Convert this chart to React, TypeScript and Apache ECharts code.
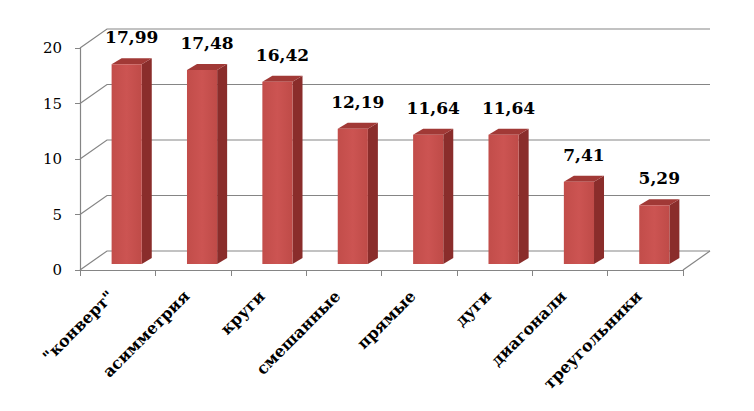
import React, { useEffect, useRef } from "react";
import * as echarts from "echarts";

const categories = ['"конверт"', "асимметрия", "круги", "смешанные", "прямые", "дуги", "диагонали", "треугольники"];
const values = [17.99, 17.48, 16.42, 12.19, 11.64, 11.64, 7.41, 5.29];
const yTicks = [0, 5, 10, 15, 20];

const SERIF = '"DejaVu Serif", "Liberation Serif", serif';
const DEPTH_X = 27;
const DEPTH_Y = -19;
const GRID_COLOR = "#858585";

export default function App() {
  const ref = useRef<HTMLDivElement>(null);
  useEffect(() => {
    if (!ref.current) return;
    const chart = echarts.init(ref.current, null, { renderer: "svg" });
    chart.setOption({
      animation: false,
      backgroundColor: "#ffffff",
      grid: { left: 80, right: 71, top: 48, bottom: 141 },
      xAxis: {
        type: "category",
        data: categories,
        boundaryGap: true,
        axisLine: { show: true, lineStyle: { color: GRID_COLOR, width: 1.2 } },
        axisTick: { show: true, length: 6, alignWithLabel: false, lineStyle: { color: GRID_COLOR } },
        axisLabel: {
          rotate: 45,
          margin: 17,
          padding: [0, 9, 0, 0],
          color: "#000",
          fontFamily: SERIF,
          fontWeight: "bold",
          fontSize: 16,
          interval: 0,
        },
        splitLine: { show: false },
      },
      yAxis: {
        type: "value",
        min: 0,
        max: 20,
        interval: 5,
        axisLine: { show: true, lineStyle: { color: GRID_COLOR, width: 1.2 } },
        axisTick: { show: true, length: 5, inside: false, lineStyle: { color: GRID_COLOR } },
        axisLabel: { margin: 18, color: "#000", fontFamily: SERIF, fontSize: 15 },
        splitLine: { show: false },
      },
      series: [
        {
          type: "custom",
          z: 1,
          silent: true,
          clip: false,
          data: yTicks.map((v) => [0, v]),
          encode: { x: 0, y: 1 },
          renderItem: (params: any, api: any) => {
            const cs = params.coordSys;
            const v = api.value(1);
            const y = api.coord([0, v])[1];
            const left = cs.x;
            const right = cs.x + cs.width;
            const children: any[] = [
              {
                type: "polyline",
                shape: {
                  points: [
                    [left, y],
                    [left + DEPTH_X, y + DEPTH_Y],
                    [right + DEPTH_X, y + DEPTH_Y],
                  ],
                },
                style: { stroke: GRID_COLOR, lineWidth: 1.2, fill: null },
              },
            ];
            if (v === 0) {
              children.push({
                type: "line",
                shape: { x1: right, y1: y, x2: right + DEPTH_X, y2: y + DEPTH_Y },
                style: { stroke: GRID_COLOR, lineWidth: 1.2 },
              });
            }
            return { type: "group", children };
          },
        },
        {
          type: "custom",
          z: 2,
          clip: false,
          data: values.map((v, i) => [i, v]),
          encode: { x: 0, y: 1 },
          renderItem: (params: any, api: any) => {
            const idx = api.value(0);
            const v = api.value(1);
            const base = api.coord([idx, 0]);
            const top = api.coord([idx, v]);
            const bw = api.size([1, 0])[0] * 0.4;
            const ox = 9, oy = -6, sx = 10, sy = -6;
            const fl = base[0] + ox - bw / 2;
            const fr = fl + bw;
            const fb = base[1] + oy;
            const ft = top[1] + oy;
            return {
              type: "group",
              children: [
                {
                  type: "polygon",
                  shape: { points: [[fr, ft], [fr + sx, ft + sy], [fr + sx, fb + sy], [fr, fb]] },
                  style: { fill: "#8a2d2b" },
                },
                {
                  type: "polygon",
                  shape: { points: [[fl, ft], [fl + sx, ft + sy], [fr + sx, ft + sy], [fr, ft]] },
                  style: { fill: "#a13936" },
                },
                {
                  type: "rect",
                  shape: { x: fl, y: ft, width: bw, height: fb - ft },
                  style: {
                    fill: new echarts.graphic.LinearGradient(0, 0, 1, 0, [
                      { offset: 0, color: "#c24d4a" },
                      { offset: 0.5, color: "#cc5452" },
                      { offset: 1, color: "#bf4b48" },
                    ]),
                  },
                },
                {
                  type: "text",
                  style: {
                    x: (fl + fr + sx) / 2,
                    y: ft - 27,
                    text: v.toFixed(2).replace(".", ","),
                    align: "center",
                    verticalAlign: "middle",
                    fill: "#000",
                    font: `bold 17px ${SERIF}`,
                  },
                },
              ],
            };
          },
        },
      ],
    });
    return () => chart.dispose();
  }, []);
  return <div ref={ref} style={{ position: "fixed", left: 0, top: 0, width: 754, height: 411 }} />;
}
